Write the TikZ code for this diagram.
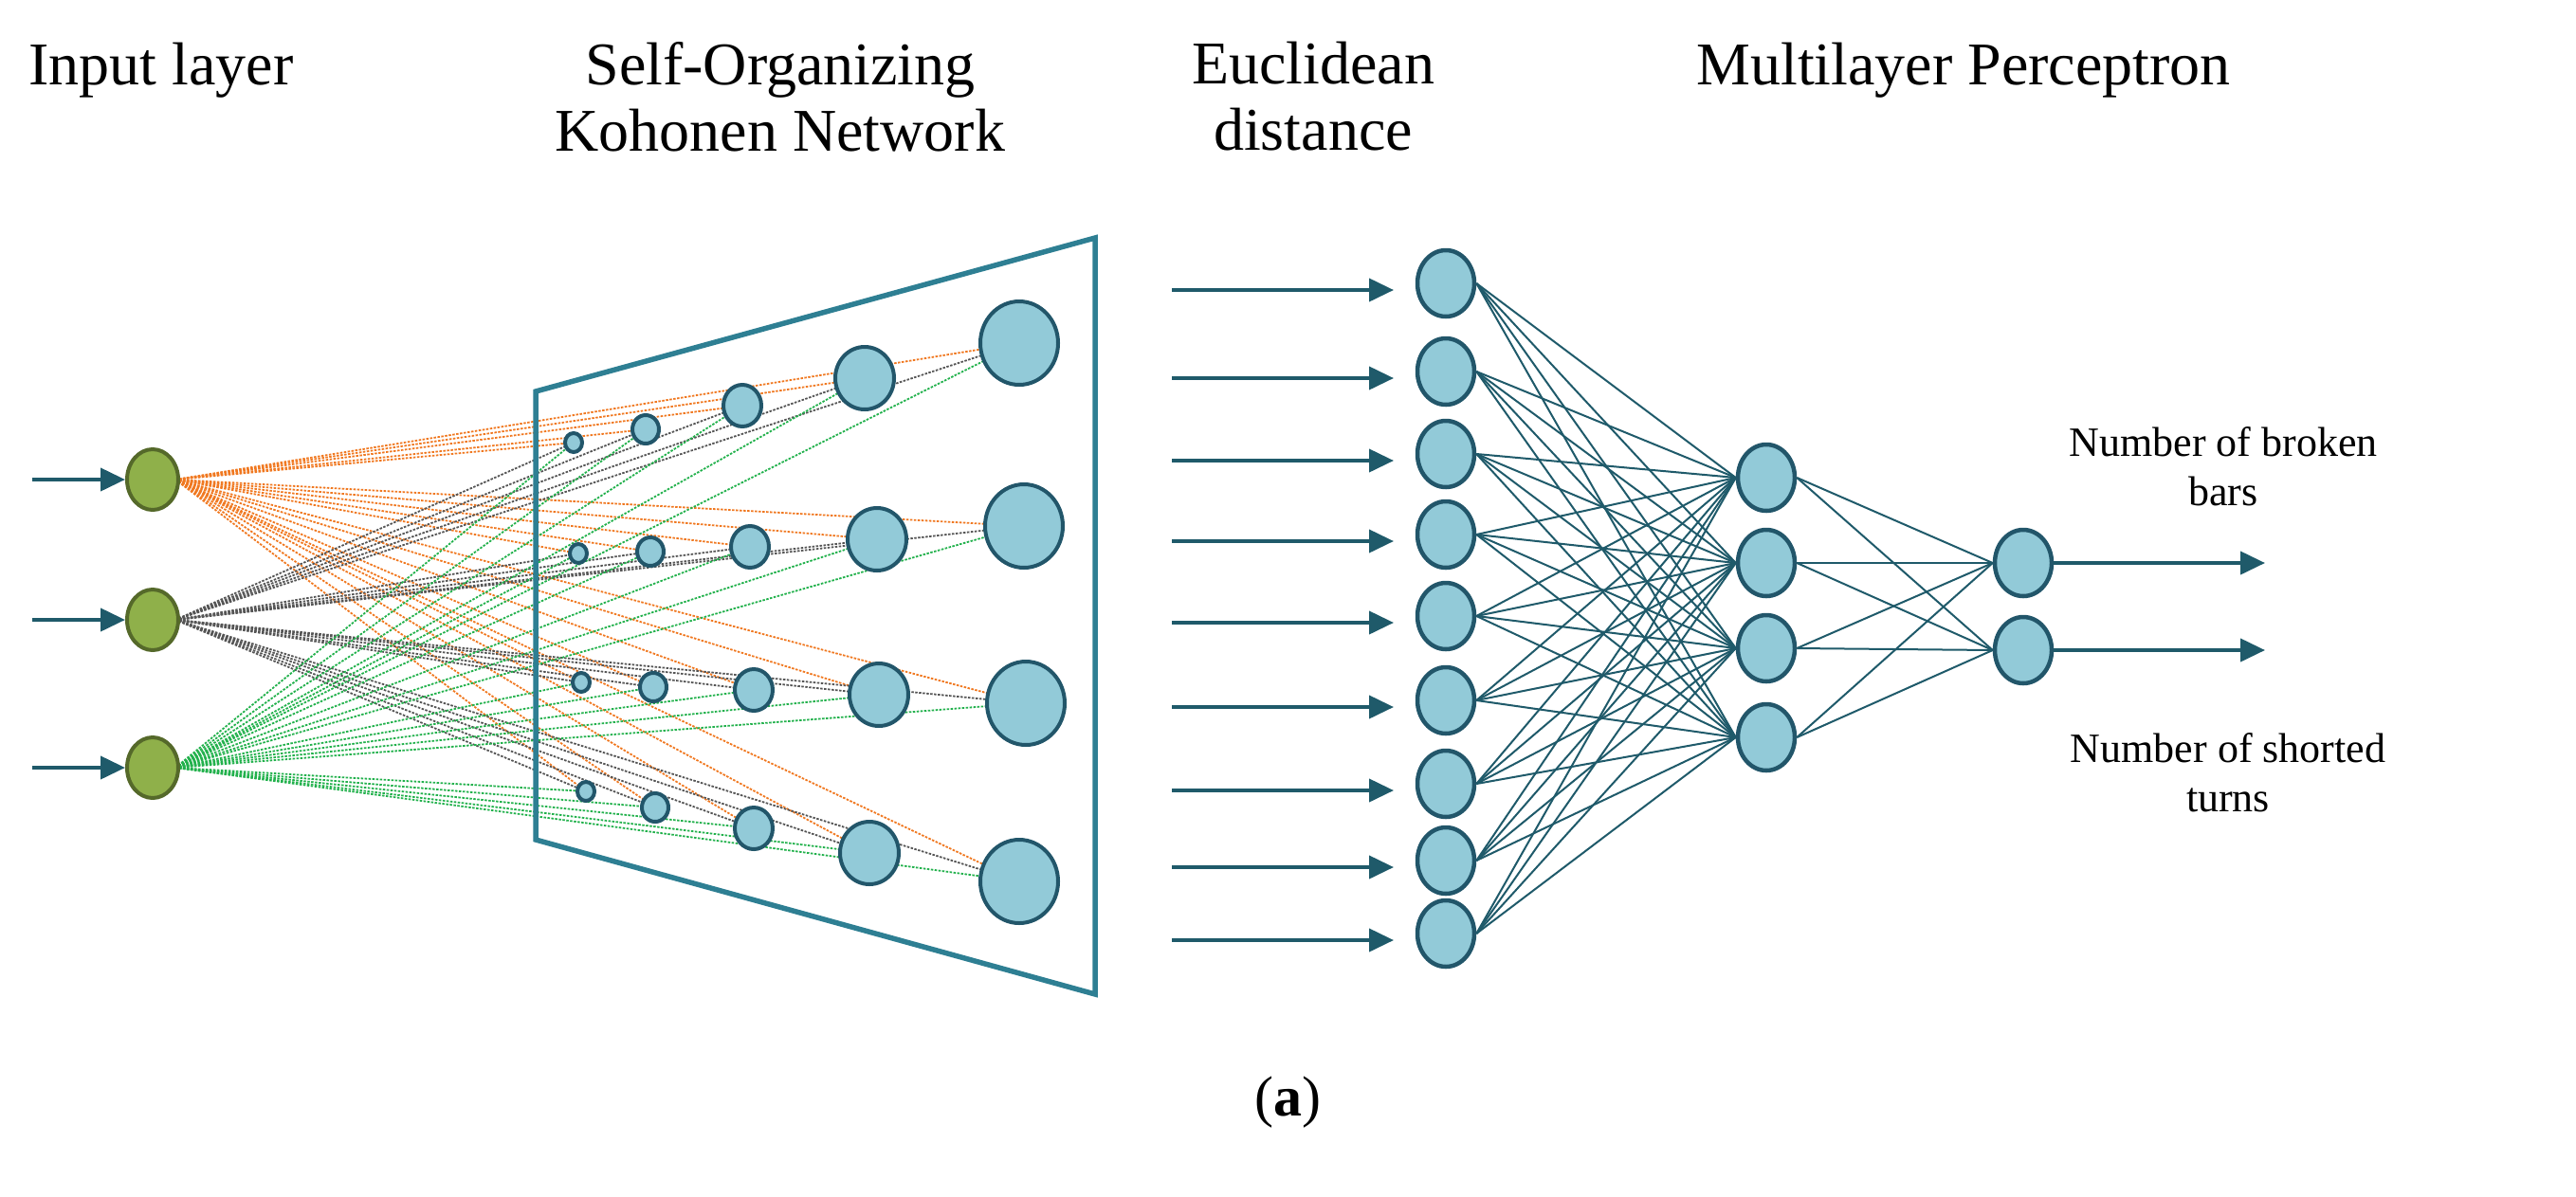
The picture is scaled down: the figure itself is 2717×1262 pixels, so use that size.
\documentclass[tikz,border=0pt]{standalone}
\usepackage{fontspec}
\setmainfont{Liberation Serif}
\usetikzlibrary{shapes.geometric,arrows.meta,backgrounds}
\definecolor{gfill}{HTML}{8FB04A}
\definecolor{gdraw}{HTML}{55692A}
\definecolor{bfill}{HTML}{92CAD8}
\definecolor{bdraw}{HTML}{22566A}
\definecolor{trap}{HTML}{2E7F93}
\definecolor{arr}{HTML}{1F5A6A}
\definecolor{lor}{HTML}{F07820}
\definecolor{lgr}{HTML}{555555}
\definecolor{lgn}{HTML}{22B14C}
\begin{document}
\begin{tikzpicture}[x=1pt,y=-1pt,
  inp/.style={ellipse,draw=gdraw,fill=gfill,line width=4pt,minimum width=54pt,minimum height=64pt,inner sep=0},
  koh/.style={ellipse,draw=bdraw,fill=bfill,line width=4pt,inner sep=0},
  mlp/.style={ellipse,draw=bdraw,fill=bfill,line width=4.5pt,minimum width=60pt,minimum height=70pt,inner sep=0},
  dl/.style={line width=1.8pt,dash pattern=on 2.5pt off 1.5pt},
  ml/.style={draw=arr,line width=2pt},
  ar/.style={draw=arr,line width=4pt,-{Triangle[length=26pt,width=24pt]}},
  lab/.style={font=\fontsize{44}{52}\selectfont,align=center},
  hd/.style={font=\fontsize{64}{70}\selectfont,align=center}]
\useasboundingbox (0,0) rectangle (2717,1262);
\foreach \r/\a/\b/\cc/\d/\e/\f/\g/\h/\i/\j in {
  1/605/467/681/453/783/428/912/399/1075/362,
  2/610/584/686/582/791/577/925/569/1080/555,
  3/613/720/689/725/795/728/927/733/1082/742,
  4/618/835/691/852/795/874/917/900/1075/930}{
  \coordinate (k\r-1) at (\a,\b);
  \coordinate (k\r-2) at (\cc,\d);
  \coordinate (k\r-3) at (\e,\f);
  \coordinate (k\r-4) at (\g,\h);
  \coordinate (k\r-5) at (\i,\j);
}
\coordinate (i1) at (161,506);
\coordinate (i2) at (161,654);
\coordinate (i3) at (161,810);
\coordinate (t1) at (565,413); \coordinate (t2) at (1155,251);
\coordinate (t3) at (1155,1049); \coordinate (t4) at (565,886);
\foreach \in/\col in {1/lor,2/lgr,3/lgn}{
  \foreach \r in {1,...,4}{
    \foreach \c in {1,...,5}{
      \draw[dl,draw=\col] ([xshift=24pt]i\in) -- (k\r-\c);
    }
  }
}
\draw[draw=trap,line width=5.5pt,line join=miter] (t1) -- (t2) -- (t3) -- (t4) -- cycle;
\foreach \c/\w/\hh in {1/18/20,2/28/30,3/40/44,4/62/66,5/82/88}{
  \foreach \r in {1,...,4}{
    \node[koh,minimum width=\w pt,minimum height=\hh pt] (K\r-\c) at (k\r-\c) {};
  }
}
\foreach \n in {1,2,3}{
  \node[inp] (I\n) at (i\n) {};
  \coordinate (ia\n) at ([xshift=-127pt]i\n);
  \draw[ar] (ia\n) -- (I\n);
}
\foreach \y [count=\n] in {299,392,479,564,650,739,827,908,985}{
  \node[mlp] (M\n) at (1525,\y) {};
  \coordinate (ea\n) at (1236,\y+7);
  \coordinate (eb\n) at (1470,\y+7);
  \draw[ar] (ea\n) -- (eb\n);
}
\foreach \y [count=\n] in {504,594,684,778}{ \node[mlp] (H\n) at (1863,\y) {}; }
\foreach \y [count=\n] in {594,686}{ \node[mlp] (O\n) at (2134,\y) {}; }
\begin{scope}[on background layer]
\foreach \a in {1,...,9}{\foreach \b in {1,...,4}{\draw[ml] (M\a.east) -- (H\b.west);}}
\foreach \a in {1,...,4}{\foreach \b in {1,2}{\draw[ml] (H\a.east) -- (O\b.west);}}
\end{scope}
\foreach \n in {1,2}{
  \coordinate (oe\n) at ([xshift=255pt]O\n.center);
  \draw[ar] (O\n) -- (oe\n);
}
\node[hd] (L1) at (170,74) {Input layer};
\node[hd] (L2) at (823,102) {Self-Organizing\\Kohonen Network};
\node[hd] (L3) at (1385,102) {Euclidean\\distance};
\node[hd] (L4) at (2071,74) {Multilayer Perceptron};
\node[lab] (L5) at (2345,492) {Number of broken\\bars};
\node[lab] (L6) at (2350,815) {Number of shorted\\turns};
\node[font=\fontsize{60}{66}\selectfont] (L7) at (1358,1163) {(\textbf{a})};
\end{tikzpicture}
\end{document}
